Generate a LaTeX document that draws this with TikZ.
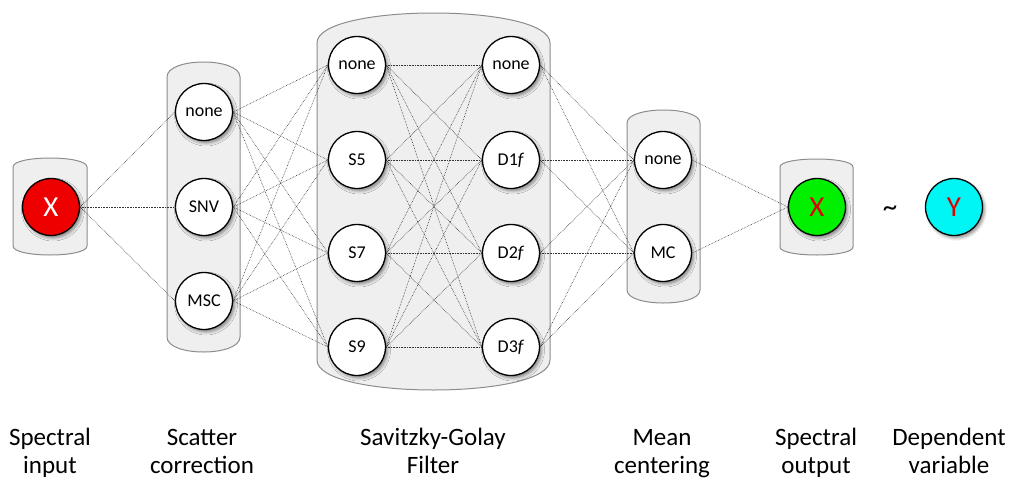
\documentclass[tikz,border=0pt]{standalone}
\usepackage{fontspec}
\setmainfont{Carlito}
\usetikzlibrary{shadows.blur}
\newcommand\pbox[5]{\path[pipebox] (#1,#3+#5) .. controls (#1,#3-#5/3) and (#2,#3-#5/3) .. (#2,#3+#5) -- (#2,#4-#5) .. controls (#2,#4+#5/3) and (#1,#4+#5/3) .. (#1,#4-#5) -- cycle;}
\definecolor{boxfill}{HTML}{EFEFEF}
\definecolor{boxline}{HTML}{8C8C8C}
\definecolor{nodered}{HTML}{EE0000}
\definecolor{nodegreen}{HTML}{00F000}
\definecolor{nodecyan}{HTML}{00F5F5}
\definecolor{textred}{HTML}{E00000}
\begin{document}
\begin{tikzpicture}[x=1pt,y=-1pt,
  pipebox/.style={fill=boxfill, draw=boxline, line width=1pt},
  proc/.style={circle, draw=black, line width=1.3pt, fill=white, minimum size=57pt, inner sep=0pt,
    font=\fontsize{18}{20}\selectfont,
    blur shadow={shadow xshift=2pt, shadow yshift=-2.5pt, shadow blur radius=3pt, shadow opacity=45}},
  bigproc/.style={proc, font=\fontsize{29}{30}\selectfont},
  link/.style={densely dotted, line width=0.6pt, black!80},
  lab/.style={align=center, font=\fontsize{25}{28}\selectfont, anchor=base}]
\useasboundingbox (0,0) rectangle (1014,479);
% containers
\pbox{13}{87}{158}{255}{9}
\pbox{167}{240}{62}{352}{15}
\pbox{317}{550}{13}{390}{30}
\pbox{627}{700}{110}{303}{13}
\pbox{780}{853}{159}{255}{8}
% nodes
\node[bigproc, fill=nodered, text=white] (inX) at (51,207) {X};
\node[proc] (sc1) at (204,112) {none};
\node[proc] (sc2) at (204,207) {SNV};
\node[proc] (sc3) at (204,301) {MSC};
\node[proc] (sgL1) at (357,65) {none};
\node[proc] (sgL2) at (357,160) {S5};
\node[proc] (sgL3) at (357,253) {S7};
\node[proc] (sgL4) at (357,347) {S9};
\node[proc] (sgR1) at (511,65) {none};
\node[proc] (sgR2) at (511,160) {D1\textit{f}};
\node[proc] (sgR3) at (511,253) {D2\textit{f}};
\node[proc] (sgR4) at (511,347) {D3\textit{f}};
\node[proc] (mc1) at (663,160) {none};
\node[proc] (mc2) at (663,253) {MC};
\node[bigproc, fill=nodegreen, text=textred] (outX) at (817,207) {X};
\node[font=\fontsize{29}{30}\selectfont] (tilde) at (890,211) {\textasciitilde};
\node[bigproc, fill=nodecyan, text=textred] (depY) at (954,207) {Y};
% connectors
\foreach \s in {sc1,sc2,sc3} \draw[link] (inX.east) -- (\s.west);
\foreach \a in {sc1,sc2,sc3} \foreach \b in {sgL1,sgL2,sgL3,sgL4} \draw[link] (\a.east) -- (\b.west);
\foreach \a in {sgL1,sgL2,sgL3,sgL4} \foreach \b in {sgR1,sgR2,sgR3,sgR4} \draw[link] (\a.east) -- (\b.west);
\foreach \a in {sgR1,sgR2,sgR3,sgR4} \foreach \b in {mc1,mc2} \draw[link] (\a.east) -- (\b.west);
\foreach \a in {mc1,mc2} \draw[link] (\a.east) -- (outX.west);
% labels
\node[lab] (l1) at (50,473) {Spectral\\input};
\node[lab] (l2) at (202,473) {Scatter\\correction};
\node[lab] (l3) at (433,473) {Savitzky-Golay\\Filter};
\node[lab] (l4) at (662,473) {Mean\\centering};
\node[lab] (l5) at (816,473) {Spectral\\output};
\node[lab] (l6) at (949,473) {Dependent\\variable};
\end{tikzpicture}
\end{document}
